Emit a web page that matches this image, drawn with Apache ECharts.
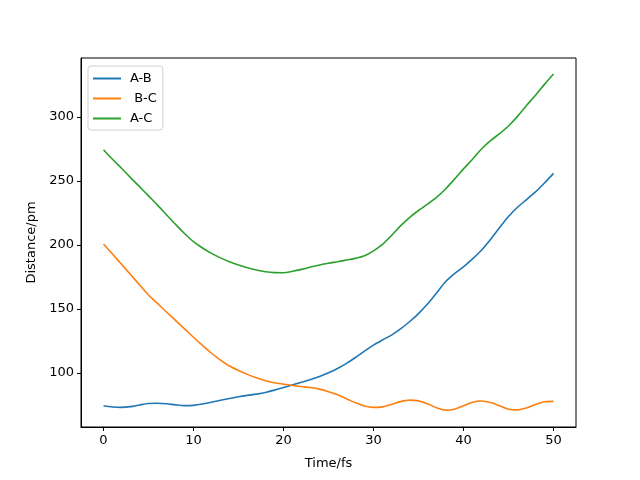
<!DOCTYPE html>
<html>
<head>
<meta charset="utf-8">
<script src="https://cdn.jsdelivr.net/npm/echarts@6/dist/echarts.min.js"></script>
<style>
  html, body { margin: 0; padding: 0; background: #fff; }
  #chart { width: 640px; height: 480px; }
</style>
</head>
<body>
<div id="chart"></div>
<script>
// time axis, fs
var timeFs = [];
for (var t = 0; t <= 50; t++) timeFs.push(t);

// distances, pm
var distAB = [74.5, 73.5, 73.2, 73.8, 75.1, 76.2, 76.4, 76.0, 75.2, 74.6,
              74.8, 75.8, 77.2, 78.8, 80.2, 81.5, 82.6, 83.6, 84.9, 86.7,
              88.8, 90.8, 92.8, 95.0, 97.4, 100.3, 103.6, 107.6, 112.2, 117.2,
              121.9, 125.9, 129.7, 134.5, 140.1, 146.5, 153.9, 162.5, 171.3, 177.7,
              183.0, 189.2, 196.0, 204.3, 213.5, 222.3, 229.5, 235.5, 241.5, 248.5,
              256.0];
var distBC = [200.8, 193.0, 185.0, 177.0, 169.0, 161.0, 154.4, 147.7, 141.2, 134.6,
              128.0, 121.6, 115.5, 110.2, 105.5, 102.0, 99.0, 96.3, 94.0, 92.5,
              91.4, 90.3, 89.5, 88.7, 87.5, 85.5, 83.0, 80.0, 76.8, 74.3,
              73.2, 73.6, 75.5, 77.7, 78.9, 78.3, 76.0, 73.0, 71.1, 71.8,
              74.5, 77.3, 78.2, 77.0, 74.5, 71.8, 71.3, 72.8, 75.5, 77.6,
              77.9];
var distAC = [274.5, 267.0, 260.0, 252.7, 245.6, 238.4, 231.2, 223.7, 216.2, 209.0,
              202.6, 197.7, 193.5, 190.0, 187.0, 184.5, 182.3, 180.5, 179.2, 178.5,
              178.4, 179.5, 181.0, 182.8, 184.4, 185.8, 187.0, 188.3, 189.6, 191.6,
              195.5, 200.5, 207.5, 215.0, 221.5, 227.0, 232.0, 237.2, 243.8, 251.5,
              259.5, 267.0, 275.0, 281.5, 287.0, 293.0, 300.5, 309.0, 317.0, 325.5,
              333.6];

var xTicks = [0, 10, 20, 30, 40, 50];
var yTicks = [100, 150, 200, 250, 300];
var seriesNames = ['A-B', ' B-C', 'A-C'];
var seriesColors = ['#1f77b4', '#ff7f0e', '#2ca02c'];

function pairs(ys) {
    return timeFs.map(function (x, i) { return [x, ys[i]]; });
}

var font = 'DejaVu Sans';
var chart = echarts.init(document.getElementById('chart'));

var option = {
    animation: false,
    textStyle: { fontFamily: font },
    grid: {
        left: 81, right: 64, top: 58, bottom: 53,
        show: true, borderColor: '#000', borderWidth: 1
    },
    legend: {
        orient: 'vertical',
        left: 88, top: 66,
        padding: [6, 6, 5, 5],
        itemWidth: 28, itemHeight: 2, itemGap: 7,
        borderColor: '#d0d0d0', borderWidth: 1, borderRadius: 3,
        backgroundColor: 'rgba(255,255,255,0.8)',
        icon: 'rect',
        textStyle: { fontSize: 13, color: '#000', fontFamily: font, padding: [0, 0, 0, 4] },
        data: seriesNames
    },
    xAxis: {
        type: 'value',
        min: -2.5, max: 52.5,
        name: 'Time/fs',
        nameLocation: 'middle',
        nameGap: 30,
        nameTextStyle: { fontSize: 13, color: '#000' },
        axisLine: { show: true, onZero: false, lineStyle: { color: '#000' } },
        axisTick: { show: true, length: 4, lineStyle: { color: '#000' }, customValues: xTicks },
        axisLabel: { fontSize: 13, color: '#000', margin: 7, customValues: xTicks },
        splitLine: { show: false }
    },
    yAxis: {
        type: 'value',
        min: 57.9, max: 346.1,
        name: 'Distance/pm',
        nameLocation: 'middle',
        nameGap: 43,
        nameTextStyle: { fontSize: 13, color: '#000' },
        axisLine: { show: true, onZero: false, lineStyle: { color: '#000' } },
        axisTick: { show: true, length: 4, lineStyle: { color: '#000' }, customValues: yTicks },
        axisLabel: { fontSize: 13, color: '#000', margin: 7, customValues: yTicks },
        splitLine: { show: false }
    },
    series: [distAB, distBC, distAC].map(function (d, i) {
        return {
            name: seriesNames[i],
            type: 'line',
            data: pairs(d),
            showSymbol: false,
            smooth: 0.3,
            color: seriesColors[i],
            lineStyle: { width: 1.6, color: seriesColors[i] }
        };
    })
};
chart.setOption(option);
</script>
</body>
</html>
